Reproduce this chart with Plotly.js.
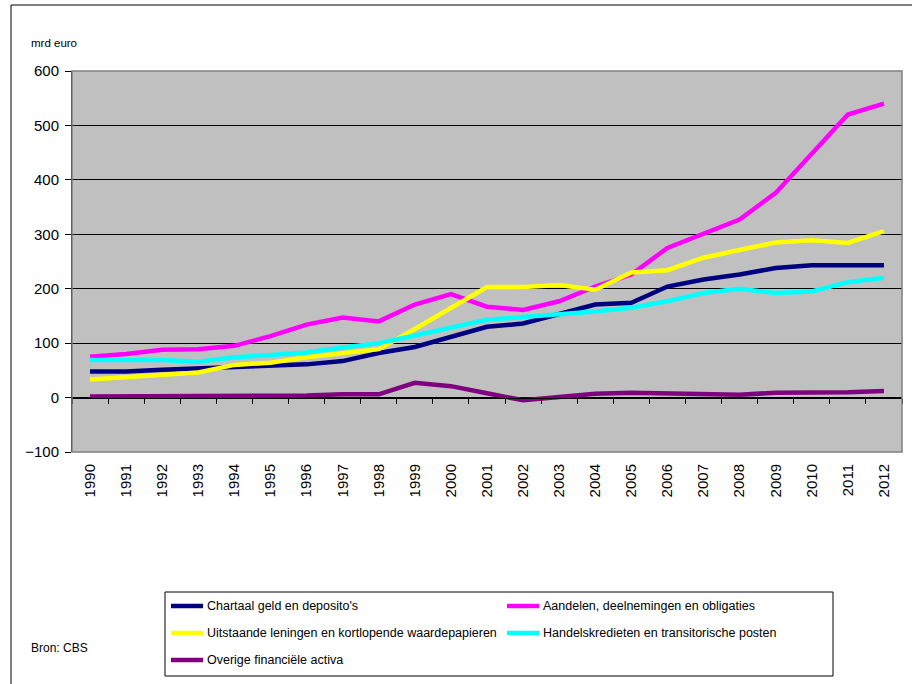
<!DOCTYPE html>
<html>
<head>
<meta charset="utf-8">
<script src="https://cdn.plot.ly/plotly-3.0.1.min.js"></script>
<style>html,body{margin:0;padding:0;background:#fff;}#chart{width:912px;height:684px;}</style>
</head>
<body>
<div id="chart"></div>
<script>
// ---- data (mrd euro) ----
const years = ['1990','1991','1992','1993','1994','1995','1996','1997','1998','1999','2000','2001','2002','2003','2004','2005','2006','2007','2008','2009','2010','2011','2012'];
const chartaal   = [48,48,51,53,56,58,61,67,82,93,112,130,136,154,171,174,204,217,226,238,243,243,243];
const aandelen   = [75,80,88,89,95,113,134,147,140,171,190,167,161,177,204,226,275,300,327,376,449,520,540];
const uitstaande = [33,38,42,46,60,64,74,82,89,126,165,203,203,207,198,230,234,257,271,285,289,284,306];
const handels    = [69,69,69,66,74,78,83,92,100,114,128,143,148,152,158,165,177,192,200,192,195,212,220];
const overige    = [2,2,2,3,4,4,4,6,6,27,21,8,-5,1,7,9,7,7,5,9,9,10,12];
const seriesNames = ["Chartaal geld en deposito's","Aandelen, deelnemingen en obligaties","Uitstaande leningen en kortlopende waardepapieren","Handelskredieten en transitorische posten","Overige financiële activa"];
const seriesColors = ['#000080','#FF00FF','#FFFF00','#00FFFF','#800080'];
const seriesValues = [chartaal, aandelen, uitstaande, handels, overige];
const yTicks = [-100,0,100,200,300,400,500,600];

// ---- geometry helpers (pixel -> paper) ----
const W = 912, H = 684;
const M = {l:72, r:10, t:71, b:232};
const PW = W - M.l - M.r, PH = H - M.t - M.b;
const px = x => (x - M.l) / PW;
const py = y => (H - M.b - y) / PH;
const FONT = 'Liberation Sans, Arial, sans-serif';

const traces = seriesValues.map((vals, i) => ({
  type: 'scatter', mode: 'lines', x: years, y: vals, name: seriesNames[i],
  line: {color: seriesColors[i], width: 4.5, shape: 'linear'},
  xaxis: 'x', yaxis: 'y', showlegend: false, hoverinfo: 'skip'
}));
// helper trace to activate the crossing category axis (no visible marks)
traces.push({type:'scatter', mode:'lines', x: years.map((_, i) => i), y: years.map(() => null),
  xaxis:'x2', yaxis:'y', showlegend:false, hoverinfo:'skip'});

const shapes = [];
const annotations = [];
// outer frame (top and left)
shapes.push({type:'line', xref:'paper', yref:'paper', x0:px(11), x1:px(913), y0:py(5), y1:py(5), line:{color:'#000', width:1}});
shapes.push({type:'line', xref:'paper', yref:'paper', x0:px(11), x1:px(11), y0:py(5), y1:py(690), line:{color:'#000', width:1}});
// plot area border
shapes.push({type:'rect', xref:'paper', yref:'paper', x0:0, x1:1, y0:0, y1:1, line:{color:'#808080', width:1.5}, fillcolor:'rgba(0,0,0,0)', layer:'above'});
// legend box
shapes.push({type:'rect', xref:'paper', yref:'paper', x0:px(165), x1:px(833), y0:py(592), y1:py(676), line:{color:'#000', width:1}, fillcolor:'#fff'});
const legPos = [[170,606],[506,606],[170,633],[506,633],[170,660]];
legPos.forEach((p, i) => {
  shapes.push({type:'line', xref:'paper', yref:'paper', x0:px(p[0]+1), x1:px(p[0]+33), y0:py(p[1]), y1:py(p[1]), line:{color:seriesColors[i], width:4.5}});
  annotations.push({xref:'paper', yref:'paper', x:px(p[0]+35), y:py(p[1]), xanchor:'left', yanchor:'middle', showarrow:false,
    text: seriesNames[i], font:{family:FONT, size:12.5, color:'#000'}});
});
annotations.push({xref:'paper', yref:'paper', x:px(29), y:py(43), xanchor:'left', yanchor:'middle', showarrow:false,
  text:'mrd euro', font:{family:FONT, size:11.5, color:'#000'}});
annotations.push({xref:'paper', yref:'paper', x:px(29), y:py(648), xanchor:'left', yanchor:'middle', showarrow:false,
  text:'Bron: CBS', font:{family:FONT, size:12, color:'#000'}});

const boundaries = [];
for (let i = 0; i <= years.length; i++) boundaries.push(i - 0.5);

const layout = {
  width: W, height: H,
  margin: M,
  paper_bgcolor: '#fff', plot_bgcolor: '#C0C0C0',
  showlegend: false,
  xaxis: {type:'category', range:[-0.5, years.length - 0.5], showgrid:false, zeroline:false, showline:false,
    ticks:'', tickangle:-90, ticklabelstandoff:8, tickfont:{family:FONT, size:15, color:'#000'}},
  xaxis2: {type:'linear', overlaying:'x', anchor:'free', position:100/700, range:[-0.5, years.length - 0.5],
    showgrid:false, zeroline:false, showline:true, linecolor:'#000', linewidth:1,
    ticks:'outside', ticklen:5, tickwidth:1, tickcolor:'#000', tickmode:'array', tickvals:boundaries, showticklabels:false},
  yaxis: {range:[-100, 600], tickmode:'array', tickvals:yTicks, showgrid:true, gridcolor:'#000', gridwidth:1,
    zeroline:false, showline:true, linecolor:'#000', linewidth:1, ticks:'outside', ticklen:6, tickcolor:'#000',
    ticklabelstandoff:3, tickfont:{family:FONT, size:15, color:'#000'}},
  shapes: shapes,
  annotations: annotations
};

Plotly.newPlot('chart', traces, layout, {staticPlot:true, displayModeBar:false});
</script>
</body>
</html>
